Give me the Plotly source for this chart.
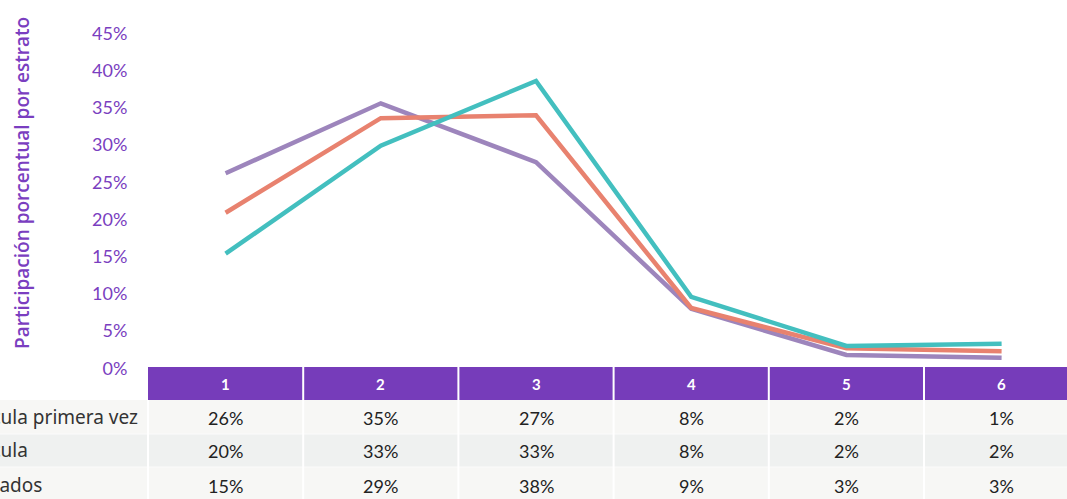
import plotly.graph_objects as go

# ---- data ----
estratos = [1, 2, 3, 4, 5, 6]
series_names = ["Matrícula primera vez", "Matrícula", "Graduados"]
primera_vez = [0.262, 0.356, 0.277, 0.080, 0.018, 0.014]
matricula = [0.209, 0.336, 0.340, 0.081, 0.027, 0.023]
graduados = [0.154, 0.299, 0.386, 0.096, 0.030, 0.033]
tabla_primera_vez = ["26%", "35%", "27%", "8%", "2%", "1%"]
tabla_matricula = ["20%", "33%", "33%", "8%", "2%", "2%"]
tabla_graduados = ["15%", "29%", "38%", "9%", "3%", "3%"]
y_ticks = [0, 0.05, 0.10, 0.15, 0.20, 0.25, 0.30, 0.35, 0.40, 0.45]
y_title = "Participación porcentual por estrato"

# ---- style ----
W, H = 1067, 499
line_colors = ["#9d85bc", "#e8826f", "#43bfbf"]
purple = "#7a3ec0"
header_color = "#763cba"
row_bg = ["#f7f7f5", "#eff1f0", "#f7f7f5"]

def px(x):
    return x / W

def py(y):
    return 1 - y / H

fig = go.Figure()
for name, vals, col in zip(series_names, [primera_vez, matricula, graduados], line_colors):
    fig.add_trace(go.Scatter(x=estratos, y=vals, mode="lines", name=name,
                             line=dict(color=col, width=4.5),
                             hoverinfo="x+y+name"))

shapes = []
annotations = []

# header band
shapes.append(dict(type="rect", xref="paper", yref="paper", x0=px(148), x1=1.0,
                   y0=py(400), y1=py(367), fillcolor=header_color, line_width=0, layer="above"))
# row backgrounds
row_edges = [400, 434, 467, 500]
for i in range(3):
    shapes.append(dict(type="rect", xref="paper", yref="paper", x0=0, x1=1.0,
                       y0=py(row_edges[i + 1]), y1=py(row_edges[i]), fillcolor=row_bg[i],
                       line_width=0, layer="above"))
for yy in row_edges[1:3]:
    shapes.append(dict(type="line", xref="paper", yref="paper", x0=0, x1=1.0,
                       y0=py(yy), y1=py(yy), line=dict(color="#fbfbfb", width=1), layer="above"))
# column separators
shapes.append(dict(type="line", xref="paper", yref="paper", x0=px(148), x1=px(148),
                   y0=0, y1=py(400), line=dict(color="white", width=2), layer="above"))
for k in estratos[:-1]:
    shapes.append(dict(type="line", xref="x", yref="paper", x0=k + 0.5, x1=k + 0.5,
                       y0=0, y1=py(367), line=dict(color="white", width=2), layer="above"))

# header labels
for k in estratos:
    annotations.append(dict(x=k, y=py(384), xref="x", yref="paper", text=f"<b>{k}</b>",
                            xanchor="center", yanchor="middle",
                            showarrow=False, font=dict(color="white", size=15, family="Lato")))
# table rows
row_centers = [418, 451, 486]
for name, cells, yc in zip(series_names, [tabla_primera_vez, tabla_matricula, tabla_graduados], row_centers):
    annotations.append(dict(x=px(-58), y=py(yc - 1), xref="paper", yref="paper", text=name,
                            xanchor="left", yanchor="middle", showarrow=False,
                            font=dict(color="#333333", size=19, family="Noto Sans")))
    for k, c in zip(estratos, cells):
        annotations.append(dict(x=k, y=py(yc), xref="x", yref="paper", text=c,
                                xanchor="center", yanchor="middle",
                                showarrow=False, font=dict(color="#222222", size=18, family="Lato")))

# y-axis title
annotations.append(dict(x=px(22), y=py(183), xref="paper", yref="paper", text=y_title,
                        textangle=-90, showarrow=False, xanchor="center", yanchor="middle",
                        font=dict(color=purple, size=19, family="Open Sans", weight=600)))

fig.update_layout(
    width=W, height=H,
    margin=dict(l=0, r=0, t=0, b=0),
    paper_bgcolor="white", plot_bgcolor="white",
    showlegend=False,
    shapes=shapes, annotations=annotations,
    xaxis=dict(domain=[148 / W, 1], range=[0.5, 0.5 + (W - 148) / 155.2],
               showgrid=False, zeroline=False, showticklabels=False, showline=False),
    yaxis=dict(domain=[0, 1], range=[-0.1756, 0.4948], tickvals=y_ticks, tickformat=".0%",
               showgrid=False, zeroline=False, showline=False, automargin=False,
               ticks="outside", ticklen=16, tickcolor="rgba(0,0,0,0)",
               tickfont=dict(color=purple, size=18, family="Lato")),
)

fig.write_html("out.html", config={"displayModeBar": False},
               post_script="document.body.style.margin='0';document.body.style.overflow='hidden';")
